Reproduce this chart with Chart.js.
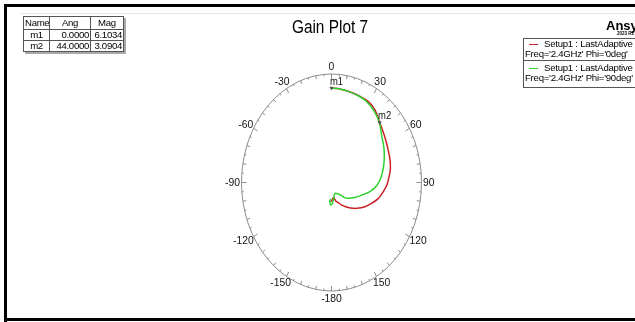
<!DOCTYPE html>
<html>
<head>
<meta charset="utf-8">
<title>Gain Plot 7</title>
<script src="https://cdn.jsdelivr.net/npm/chart.js@4.4.1/dist/chart.umd.min.js"></script>
<style>
  html, body { margin: 0; padding: 0; background: #fff; }
  #page { position: relative; width: 635px; height: 322px; overflow: hidden;
          font-family: "Liberation Sans", Arial, sans-serif; color: #000; background: #fff; }
  #c { position: absolute; left: 0; top: 0; }
  .bar { position: absolute; background: #000; }
  .hair { position: absolute; background: #e3e6ea; }
  #title { position: absolute; left: 230px; width: 200px; top: 15px; text-align: center;
           font-size: 17.5px; line-height: 24px; transform: scaleX(0.88); white-space: nowrap; }
  #markers { position: absolute; left: 23px; top: 16px; border-collapse: collapse; background: #fff;
             table-layout: fixed; width: 100px;
             box-shadow: 2px 2px 0 #a9a9a9; font-size: 9.6px; letter-spacing: -0.3px; }
  #markers td { border: 1px solid #555; padding: 0 1px; line-height: 10px; white-space: nowrap; }
  #markers tr.head td { height: 12px; text-align: center; }
  #markers tr.row td { height: 10px; }
  #markers td.num { text-align: right; }
  #markers td.name { text-align: center; }
  #legend { position: absolute; left: 523px; top: 38px; width: 130px; height: 50px; background: #fff;
            border: 1px solid #555; box-sizing: border-box; font-size: 9.6px; letter-spacing: -0.25px; }
  #legend .sep { position: absolute; left: 0; right: 0; top: 21px; height: 1px; background: #555; }
  #legend .swatch { position: absolute; left: 5px; width: 9px; height: 1.5px; }
  #legend .t { position: absolute; white-space: nowrap; line-height: 10px; }
  #brand { position: absolute; left: 606px; top: 18px; font-size: 13px; font-weight: bold; white-space: nowrap; }
  #brandsub { position: absolute; left: 617px; top: 31px; font-size: 4.5px; font-weight: bold; white-space: nowrap; }
</style>
</head>
<body>
<div id="page">
  <canvas id="c" width="635" height="322"></canvas>
  <div class="hair" style="left:20px; top:13px; width:615px; height:1px;"></div>
  <div class="bar" style="left:4px; top:4px; width:631px; height:3px;"></div>
  <div class="bar" style="left:4px; top:4px; width:3px; height:318px;"></div>
  <div class="bar" style="left:4px; top:318px; width:631px; height:3px;"></div>
  <div id="title">Gain Plot 7</div>
  <table id="markers"></table>
  <div id="legend"></div>
  <div id="brand">Ansys</div>
  <div id="brandsub">2023 R2</div>
</div>
<script>
// Radial axis range in dB
const R_MIN = -20;
const R_MAX = 10;

// Angle labels around the rim
const ANGLE_TICKS = [0, 30, 60, 90, 120, 150, -180, -150, -120, -90, -60, -30];

// Trace 1: Freq='2.4GHz' Phi='0deg'  (theta in deg, gain in dB)
const THETA_PHI0 = [0, 6, 13, 20, 29, 36, 44, 50, 57, 65, 72, 79, 85, 92, 98, 106, 113, 121, 130, 138, 145, 152, 158, 165, 171, 177, 183];
const GAIN_PHI0  = [6.1034, 6.0, 5.8, 5.7, 5.5, 4.7, 3.0904, 2.3, 1.55, 0.9, 0.5, 0.0, -0.7, -1.5, -2.5, -3.8, -5.4, -7.0, -8.9, -10.5, -11.8, -13.0, -14.0, -14.8, -15.9, -15.2, -14.7];

// Trace 2: Freq='2.4GHz' Phi='90deg'
const THETA_PHI90 = [0, 6, 13, 20, 27, 35, 44, 52, 60, 68, 75, 82, 89, 95, 102, 109, 118, 127, 134, 140, 150, 159, 168, 177, 182.5, 187, 181];
const GAIN_PHI90  = [6.1034, 6.0, 5.8, 5.6, 5.3, 4.4, 3.0, 1.2, 0.1, -1.0, -2.0, -3.0, -4.1, -5.3, -7.2, -9.3, -11.2, -12.8, -14.0, -15.6, -16.5, -16.8, -16.0, -14.2, -13.8, -14.9, -15.4];

// Markers
const MARKER_NAMES = ['m1', 'm2'];
const MARKER_ANG   = [0.0, 44.0];
const MARKER_MAG   = [6.1034, 3.0904];

// Legend entries
const SERIES_LABELS = [
  ['Setup1 : LastAdaptive', "Freq='2.4GHz' Phi='0deg'"],
  ['Setup1 : LastAdaptive', "Freq='2.4GHz' Phi='90deg'"]
];
const SERIES_COLORS = ['#c82025', '#2fd22f'];

// polar (deg, dB) -> normalized cartesian for the linear x/y scales
function toXY(ang, mag) {
  const r = Math.max(0, (mag - R_MIN) / (R_MAX - R_MIN));
  const t = ang * Math.PI / 180;
  return { x: r * Math.sin(t), y: r * Math.cos(t) };
}
const trace = (angs, mags) => angs.map((a, i) => toXY(a, mags[i]));

// marker table
(function buildTable() {
  const tb = document.getElementById('markers');
  let html = '<colgroup><col style="width:26px"><col style="width:41px"><col style="width:33px"></colgroup>';
  html += '<tr class="head"><td>Name</td><td>Ang</td><td>Mag</td></tr>';
  MARKER_NAMES.forEach((n, i) => {
    html += '<tr class="row"><td class="name">' + n + '</td><td class="num">' + MARKER_ANG[i].toFixed(4) +
            '</td><td class="num">' + MARKER_MAG[i].toFixed(4) + '</td></tr>';
  });
  tb.innerHTML = html;
})();

// legend box
(function buildLegend() {
  const lg = document.getElementById('legend');
  const rowTop = [0, 24];
  let html = '<div class="sep"></div>';
  SERIES_LABELS.forEach((lab, i) => {
    const top = rowTop[i];
    html += '<div class="swatch" style="top:' + (top + 4.5) + 'px;background:' + SERIES_COLORS[i] + '"></div>';
    html += '<div class="t" style="left:20px;top:' + top + 'px">' + lab[0] + '</div>';
    html += '<div class="t" style="left:1px;top:' + (top + 9.5) + 'px">' + lab[1] + '</div>';
  });
  lg.innerHTML = html;
})();

// rim, ticks, angle labels and marker names
const polarFrame = {
  id: 'polarFrame',
  beforeDatasetsDraw(chart) {
    const { ctx, scales: { x, y } } = chart;
    const cx = x.getPixelForValue(0), cy = y.getPixelForValue(0);
    const rx = x.getPixelForValue(1) - cx, ry = cy - y.getPixelForValue(1);
    ctx.save();
    ctx.strokeStyle = '#8c8c8c';
    ctx.lineWidth = 1;
    ctx.beginPath();
    ctx.ellipse(cx, cy, rx, ry, 0, 0, Math.PI * 2);
    ctx.stroke();
    for (let a = 0; a < 360; a += 5) {
      const len = a % 30 === 0 ? 5 : (a % 10 === 0 ? 3.5 : 2);
      const t = a * Math.PI / 180, s = Math.sin(t), c = Math.cos(t);
      const px = cx + rx * s, py = cy - ry * c;
      const nx = rx * s, ny = -ry * c, nl = Math.hypot(nx, ny);
      ctx.beginPath();
      ctx.moveTo(px, py);
      ctx.lineTo(px - nx / nl * len, py - ny / nl * len);
      ctx.stroke();
    }
    ctx.fillStyle = '#111';
    ctx.font = '11.5px "Liberation Sans", Arial, sans-serif';
    ctx.textAlign = 'center';
    ctx.textBaseline = 'middle';
    const sx = 0.9;
    ANGLE_TICKS.forEach(a => {
      const t = a * Math.PI / 180, s = Math.sin(t), c = Math.cos(t);
      const txt = String(a);
      const hw = ctx.measureText(txt).width * sx / 2, hh = 5.5;
      const lx = cx + rx * s + s * (1.5 + hw);
      const ly = cy - ry * c - c * (2 + hh);
      ctx.save();
      ctx.translate(lx, ly);
      ctx.scale(sx, 1);
      ctx.fillText(txt, 0, 0);
      ctx.restore();
    });
    ctx.restore();
  },
  afterDatasetsDraw(chart) {
    const { ctx, scales: { x, y } } = chart;
    ctx.save();
    ctx.fillStyle = '#111';
    ctx.font = '10.5px "Liberation Sans", Arial, sans-serif';
    ctx.textAlign = 'left';
    ctx.textBaseline = 'alphabetic';
    MARKER_NAMES.forEach((n, i) => {
      const p = toXY(MARKER_ANG[i], MARKER_MAG[i]);
      const px = x.getPixelForValue(p.x), py = y.getPixelForValue(p.y);
      ctx.save();
      ctx.translate(px - 1.5, py - 3);
      ctx.scale(0.9, 1);
      ctx.fillText(n, 0, 0);
      ctx.restore();
    });
    ctx.restore();
  }
};

new Chart(document.getElementById('c'), {
  type: 'scatter',
  data: {
    datasets: [
      {
        label: 'markers',
        data: MARKER_ANG.map((a, i) => toXY(a, MARKER_MAG[i])),
        showLine: false,
        pointStyle: 'triangle',
        rotation: 180,
        pointRadius: 2,
        pointBackgroundColor: '#555',
        pointBorderColor: '#555',
        pointBorderWidth: 0.5,
        order: 0
      },
      {
        label: SERIES_LABELS[1].join(' '),
        data: trace(THETA_PHI90, GAIN_PHI90),
        showLine: true,
        borderColor: SERIES_COLORS[1],
        borderWidth: 1.5,
        pointRadius: 0,
        tension: 0.25,
        fill: false,
        order: 1
      },
      {
        label: SERIES_LABELS[0].join(' '),
        data: trace(THETA_PHI0, GAIN_PHI0),
        showLine: true,
        borderColor: SERIES_COLORS[0],
        borderWidth: 1.5,
        pointRadius: 0,
        tension: 0.25,
        fill: false,
        order: 2
      }
    ]
  },
  options: {
    responsive: false,
    animation: false,
    devicePixelRatio: 1,
    layout: { padding: { left: 241.5, right: 213.5, top: 74, bottom: 31 } },
    scales: {
      x: { type: 'linear', min: -1, max: 1, display: false },
      y: { type: 'linear', min: -1, max: 1, display: false }
    },
    plugins: {
      legend: { display: false },
      tooltip: { enabled: false },
      title: { display: false }
    }
  },
  plugins: [polarFrame]
});
</script>
</body>
</html>
